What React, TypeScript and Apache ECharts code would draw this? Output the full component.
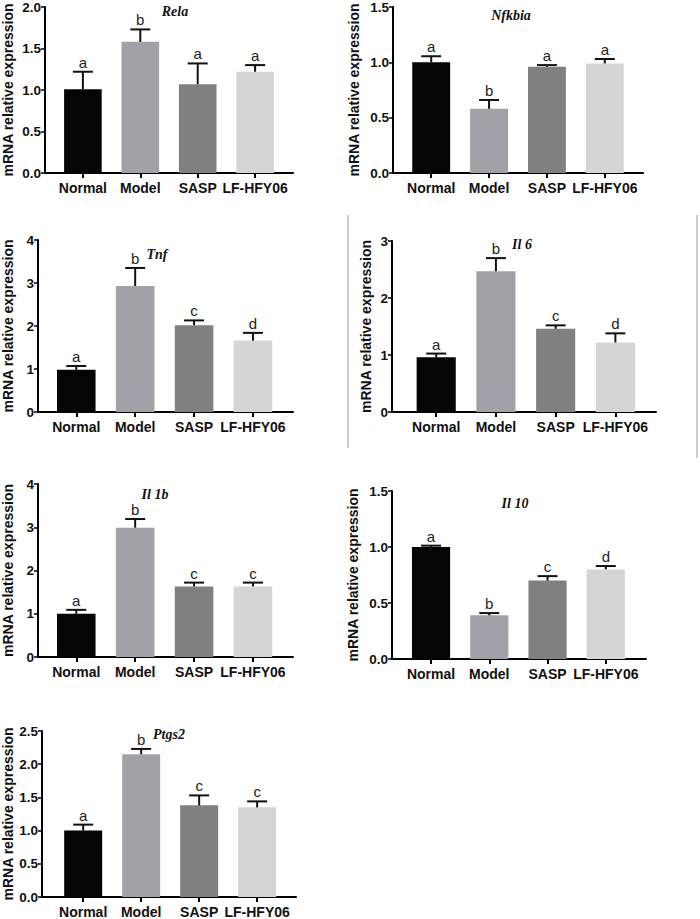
import React, { useEffect, useRef } from "react";
import * as echarts from "echarts";

const categories = ["Normal", "Model", "SASP", "LF-HFY06"];
const barColors = ["#050505", "#a1a1a7", "#808080", "#d5d5d5"];

const relaMean = [1.01, 1.58, 1.07, 1.22];
const relaErr = [0.21, 0.15, 0.25, 0.08];
const relaSig = ["a", "b", "a", "a"];

const nfkbiaMean = [1.0, 0.58, 0.96, 0.99];
const nfkbiaErr = [0.055, 0.08, 0.015, 0.04];
const nfkbiaSig = ["a", "b", "a", "a"];

const tnfMean = [0.98, 2.93, 2.02, 1.66];
const tnfErr = [0.09, 0.42, 0.11, 0.18];
const tnfSig = ["a", "b", "c", "d"];

const il6Mean = [0.96, 2.47, 1.46, 1.22];
const il6Err = [0.065, 0.23, 0.06, 0.16];
const il6Sig = ["a", "b", "c", "d"];

const il1bMean = [1.0, 2.99, 1.63, 1.63];
const il1bErr = [0.09, 0.2, 0.09, 0.09];
const il1bSig = ["a", "b", "c", "c"];

const il10Mean = [1.0, 0.39, 0.7, 0.8];
const il10Err = [0.012, 0.02, 0.04, 0.03];
const il10Sig = ["a", "b", "c", "d"];

const ptgs2Mean = [1.0, 2.15, 1.38, 1.35];
const ptgs2Err = [0.09, 0.08, 0.15, 0.09];
const ptgs2Sig = ["a", "b", "c", "c"];

const yAxisName = "mRNA relative expression";

const panels = [
  { title: "Rela", mean: relaMean, err: relaErr, sig: relaSig, yMax: 2, yStep: 0.5 },
  { title: "Nfkbia", mean: nfkbiaMean, err: nfkbiaErr, sig: nfkbiaSig, yMax: 1.5, yStep: 0.5 },
  { title: "Tnf", mean: tnfMean, err: tnfErr, sig: tnfSig, yMax: 4, yStep: 1 },
  { title: "Il 6", mean: il6Mean, err: il6Err, sig: il6Sig, yMax: 3, yStep: 1 },
  { title: "Il 1b", mean: il1bMean, err: il1bErr, sig: il1bSig, yMax: 4, yStep: 1 },
  { title: "Il 10", mean: il10Mean, err: il10Err, sig: il10Sig, yMax: 1.5, yStep: 0.5 },
  { title: "Ptgs2", mean: ptgs2Mean, err: ptgs2Err, sig: ptgs2Sig, yMax: 2.5, yStep: 0.5 },
];

// layout (pixels) for each panel
const layouts = [
  { left: 43, top: 7, width: 250, height: 166, padL: 0.66, padR: 0.66, nameGap: 30, tx: 175, ty: 11 },
  { left: 393, top: 7, width: 250, height: 166, padL: 0.66, padR: 0.66, nameGap: 32, tx: 511, ty: 15 },
  { left: 35, top: 240, width: 258, height: 172, padL: 0.65, padR: 0.68, nameGap: 23, tx: 157, ty: 254 },
  { left: 392, top: 241, width: 264, height: 171, padL: 0.74, padR: 0.68, nameGap: 19, tx: 522, ty: 244 },
  { left: 35, top: 484, width: 258, height: 173, padL: 0.65, padR: 0.68, nameGap: 23, tx: 155, ty: 494 },
  { left: 392, top: 491, width: 254, height: 168, padL: 0.67, padR: 0.69, nameGap: 32, tx: 515, ty: 503 },
  { left: 40, top: 731, width: 256, height: 168, padL: 0.71, padR: 0.67, nameGap: 27, tx: 169, ty: 734 },
];

const BAR_W = 0.655;
const CAP = 10;
const FONT = '"Liberation Sans", Arial, Helvetica, sans-serif';

function buildOption() {
  const grid: any[] = [];
  const xAxis: any[] = [];
  const yAxis: any[] = [];
  const series: any[] = [];
  const graphic: any[] = [];

  panels.forEach((p, k) => {
    const L = layouts[k];
    grid.push({ left: L.left, top: L.top, width: L.width, height: L.height, containLabel: false });
    xAxis.push({
      gridIndex: k,
      type: "value",
      min: -L.padL,
      max: categories.length - 1 + L.padR,
      axisLine: { show: true, onZero: false, lineStyle: { color: "#000", width: 2 } },
      axisTick: { show: true, customValues: [0, 1, 2, 3], length: 5, lineStyle: { color: "#000", width: 2 } },
      axisLabel: {
        customValues: [0, 1, 2, 3],
        formatter: (v: number) => categories[Math.round(v)] ?? "",
        fontFamily: FONT,
        fontWeight: "bold",
        fontSize: 14,
        color: "#111",
        margin: 8,
      },
      splitLine: { show: false },
    });
    yAxis.push({
      gridIndex: k,
      type: "value",
      min: 0,
      max: p.yMax,
      interval: p.yStep,
      name: yAxisName,
      nameLocation: "middle",
      nameGap: L.nameGap,
      nameTextStyle: { fontFamily: FONT, fontWeight: "bold", fontSize: 14, color: "#111" },
      axisLine: { show: true, onZero: false, lineStyle: { color: "#000", width: 2 } },
      axisTick: { show: true, length: 4, lineStyle: { color: "#000", width: 1.5 } },
      axisLabel: {
        formatter: (v: number) => (p.yStep < 1 ? v.toFixed(1) : String(v)),
        fontFamily: FONT,
        fontWeight: "bold",
        fontSize: 13.5,
        color: "#111",
        margin: 4,
      },
      splitLine: { show: false },
    });
    series.push({
      type: "custom",
      name: p.title + " bars",
      xAxisIndex: k,
      yAxisIndex: k,
      data: p.mean.map((v, i) => [i, v]),
      renderItem: (params: any, api: any) => {
        const i = api.value(0);
        const v = api.value(1);
        const a = api.coord([i - BAR_W / 2, 0]);
        const b = api.coord([i + BAR_W / 2, v]);
        return {
          type: "rect",
          shape: { x: a[0], y: b[1], width: b[0] - a[0], height: a[1] - b[1] },
          style: { fill: barColors[i] },
        };
      },
    });
    series.push({
      type: "custom",
      name: p.title + " error",
      xAxisIndex: k,
      yAxisIndex: k,
      z: 3,
      data: p.mean.map((v, i) => [i, v, p.err[i]]),
      renderItem: (params: any, api: any) => {
        const i = api.value(0);
        const v = api.value(1);
        const e = api.value(2);
        const p0 = api.coord([i, v]);
        const p1 = api.coord([i, v + e]);
        return {
          type: "group",
          children: [
            { type: "line", shape: { x1: p0[0], y1: p0[1], x2: p1[0], y2: p1[1] }, style: { stroke: "#111", lineWidth: 2 } },
            { type: "line", shape: { x1: p1[0] - CAP, y1: p1[1], x2: p1[0] + CAP, y2: p1[1] }, style: { stroke: "#111", lineWidth: 2 } },
            {
              type: "text",
              x: p1[0],
              y: p1[1] - 2,
              style: {
                text: p.sig[params.dataIndex],
                textAlign: "center",
                textVerticalAlign: "bottom",
                fontFamily: FONT,
                fontSize: 15,
                fill: "#222",
              },
            },
          ],
        };
      },
    });
    graphic.push({
      type: "text",
      x: L.tx,
      y: L.ty,
      style: {
        text: p.title,
        textAlign: "center",
        textVerticalAlign: "middle",
        fontFamily: '"Liberation Serif", "Times New Roman", serif',
        fontStyle: "italic",
        fontWeight: "bold",
        fontSize: 14,
        fill: "#111",
      },
    });
  });

  graphic.push({ type: "line", shape: { x1: 348, y1: 215, x2: 348, y2: 448 }, style: { stroke: "#9a9a9a", lineWidth: 1 } });
  graphic.push({ type: "line", shape: { x1: 697, y1: 215, x2: 697, y2: 458 }, style: { stroke: "#9a9a9a", lineWidth: 1 } });

  return { animation: false, backgroundColor: "#ffffff", grid, xAxis, yAxis, series, graphic };
}

export default function App() {
  const ref = useRef<HTMLDivElement>(null);
  useEffect(() => {
    document.body.style.margin = "0";
    if (!ref.current) return;
    const chart = echarts.init(ref.current, null, { renderer: "svg" });
    chart.setOption(buildOption() as any);
    return () => chart.dispose();
  }, []);
  return <div ref={ref} style={{ width: 700, height: 919 }} />;
}
